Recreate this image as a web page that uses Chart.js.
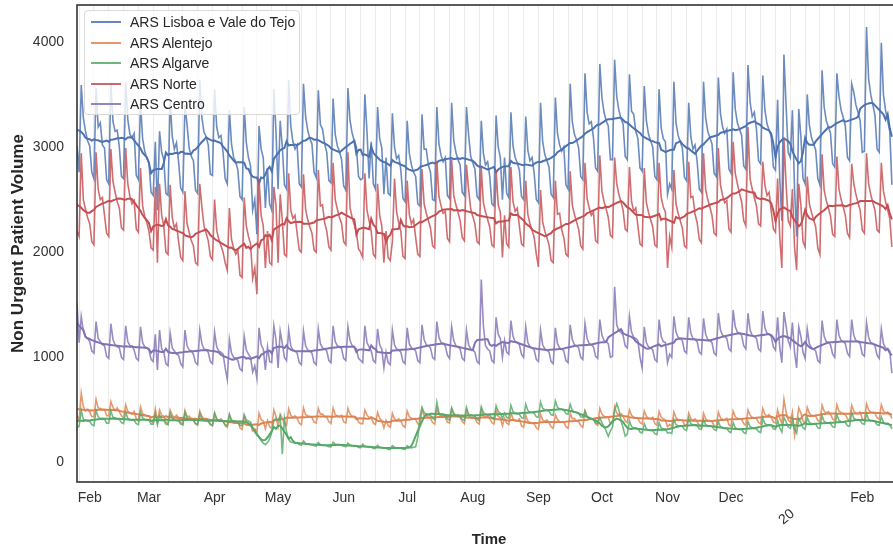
<!DOCTYPE html>
<html>
<head>
<meta charset="utf-8">
<script src="https://cdn.jsdelivr.net/npm/chart.js@4.4.1/dist/chart.umd.min.js"></script>
<style>
  html, body { margin: 0; padding: 0; background: #fff; }
  #wrap { position: relative; width: 893px; height: 550px; overflow: hidden; }
  #legend {
    position: absolute; left: 84px; top: 10px; width: 216px; height: 105px;
    border: 1px solid #d9d9d9; border-radius: 4px; background: rgba(255,255,255,0.8);
    font: 14px "Liberation Sans", Arial, sans-serif; color: #262626; box-sizing: border-box;
    padding-top: 1px;
  }
  #legend .row { height: 20.5px; display: flex; align-items: center; }
  #legend .swatch { width: 30px; height: 2px; margin-left: 6px; margin-right: 9px; }
</style>
</head>
<body>
<div id="wrap">
  <canvas id="chart" width="904" height="550"></canvas>
  <div id="legend"></div>
</div>
<script>
// daily non urgent ER volume, first day 2019-01-26
const startDate = '2019-01-26';

const regions = ['ARS Lisboa e Vale do Tejo', 'ARS Alentejo', 'ARS Algarve', 'ARS Norte', 'ARS Centro'];
const colors = ['#4C72B0', '#DD8452', '#55A868', '#C44E52', '#8172B3'];

const monthTickDates = ['2019-02-01', '2019-03-01', '2019-04-01', '2019-05-01', '2019-06-01', '2019-07-01',
  '2019-08-01', '2019-09-01', '2019-10-01', '2019-11-01', '2019-12-01', '2020-01-01', '2020-02-01'];
const monthTickLabels = ['Feb', 'Mar', 'Apr', 'May', 'Jun', 'Jul', 'Aug', 'Sep', 'Oct', 'Nov', 'Dec', '20', 'Feb'];
const yTicks = [0, 1000, 2000, 3000, 4000];

const lisboa = [
  3010, 2760,
  3590, 3280, 3150, 3060, 3010, 2760, 2700,
  3560, 3190, 3230, 3020, 2990, 2690, 2650,
  3610, 3240, 3150, 3160, 3000, 2720, 2700,
  3620, 3260, 3120, 3090, 3130, 2730, 2690,
  3420, 3080, 2960, 2890, 2850, 2570, 2540,
  3050, 2400, 3150, 2950, 2880, 2560, 2540,
  3450, 3100, 2980, 3040, 2860, 2610, 2570,
  3400, 3210, 2990, 2910, 2870, 2590, 2560,
  3640, 3280, 3140, 3100, 3020, 2740, 2730,
  3550, 3190, 3090, 3110, 2950, 2700, 2650,
  3350, 3030, 2900, 2860, 2780, 2530, 2500,
  3380, 3040, 2900, 2820, 2400, 2500, 2170,
  3200, 2980, 2900, 2420, 2800, 2460, 2400,
  3550, 3150, 2600, 3250, 3000, 2640, 2600,
  3640, 3200, 3050, 2980, 3020, 2650, 2620,
  3600, 3290, 3160, 3080, 3030, 2760, 2710,
  3540, 3210, 3170, 3030, 2950, 2680, 2660,
  3460, 3120, 3010, 2960, 2880, 2630, 2590,
  3560, 3250, 3130, 3060, 3000, 2720, 2690,
  2700, 3500, 3150, 2700, 3050, 2650, 2600,
  3380, 3080, 2990, 2550, 2900, 2560, 2540,
  3320, 3000, 2890, 2920, 2780, 2510, 2480,
  3250, 2940, 2830, 2760, 2720, 2460, 2440,
  3310, 2980, 2980, 2830, 2760, 2500, 2490,
  3380, 3030, 2920, 2860, 2900, 2540, 2510,
  3420, 3060, 2950, 2880, 2830, 2570, 2540,
  3380, 3120, 2910, 2850, 2790, 2530, 2500,
  3250, 2940, 2830, 2860, 2720, 2460, 2440,
  3300, 3000, 2900, 2500, 2900, 2560, 2520,
  3330, 3010, 2900, 2850, 2780, 2530, 2500,
  3290, 2970, 2870, 2900, 2750, 2500, 2470,
  3420, 3050, 2930, 2870, 2810, 2550, 2520,
  3470, 3130, 3020, 2960, 3000, 2640, 2600,
  3600, 3240, 3120, 3070, 2990, 2720, 2690,
  3700, 3330, 3220, 3240, 3090, 2800, 2770,
  3790, 3470, 3330, 3250, 3200, 2880, 2880,
  3830, 3480, 3350, 3270, 3220, 2910, 2880,
  3690, 3340, 3310, 3150, 3080, 2800, 2770,
  3580, 3250, 3120, 3060, 3000, 2720, 2690,
  3550, 3180, 3080, 3050, 2550, 2650, 2600,
  3620, 3230, 3110, 3050, 2990, 2710, 2680,
  3420, 3100, 2980, 3020, 2860, 2600, 2570,
  3620, 3280, 3150, 3090, 3030, 2750, 2720,
  3660, 3320, 3190, 3130, 3170, 2790, 2750,
  3710, 3360, 3230, 3170, 3110, 2820, 2790,
  3780, 3430, 3290, 3330, 3170, 2870, 2840,
  3680, 3350, 3220, 3160, 3100, 2810, 2780,
  3450, 2700, 2300, 3880, 3400, 2950, 2900,
  3350, 2600, 2150, 3360, 3100, 2700, 2650,
  3500, 3210, 3090, 3030, 2970, 2700, 2640,
  3730, 3380, 3250, 3190, 3130, 2840, 2810,
  3700, 3480, 3350, 3280, 3200, 2900, 2870,
  3600, 3520, 3400, 3330, 3250, 2950, 2960,
  4140, 3650, 3500, 3400, 3300, 2980, 2950,
  3990, 3500, 3350, 3250, 3150, 2640
];

const alentejo = [
  450, 400,
  660, 530, 490, 500, 480, 435, 435,
  600, 520, 515, 500, 505, 445, 445,
  580, 525, 495, 520, 485, 445, 425,
  550, 485, 475, 460, 485, 415, 395,
  530, 465, 455, 440, 445, 395, 380,
  510, 380, 500, 450, 440, 385, 365,
  500, 450, 425, 450, 420, 380, 360,
  495, 435, 440, 415, 410, 370, 355,
  490, 440, 415, 420, 405, 370, 350,
  470, 415, 400, 415, 395, 350, 335,
  450, 395, 380, 375, 390, 330, 315,
  440, 390, 375, 365, 300, 320, 290,
  470, 410, 395, 320, 400, 340, 325,
  500, 440, 340, 460, 420, 370, 355,
  510, 450, 430, 445, 420, 375, 360,
  520, 455, 445, 435, 430, 385, 375,
  515, 460, 460, 435, 430, 390, 370,
  520, 455, 445, 435, 450, 385, 375,
  515, 460, 440, 440, 430, 385, 370,
  370, 500, 450, 430, 425, 375, 360,
  475, 420, 400, 330, 400, 350, 335,
  470, 415, 400, 415, 395, 350, 335,
  490, 435, 420, 415, 410, 370, 355,
  505, 445, 450, 425, 420, 380, 365,
  515, 460, 440, 435, 430, 385, 375,
  510, 460, 445, 455, 430, 390, 370,
  500, 450, 430, 425, 420, 380, 365,
  505, 445, 430, 445, 420, 380, 365,
  495, 440, 425, 350, 420, 375, 360,
  470, 415, 400, 395, 415, 350, 335,
  450, 395, 380, 375, 370, 330, 315,
  460, 405, 390, 405, 380, 340, 325,
  455, 410, 390, 385, 385, 340, 325,
  470, 415, 420, 395, 390, 350, 335,
  490, 435, 420, 415, 410, 370, 355,
  515, 460, 440, 435, 430, 365, 375,
  530, 470, 450, 465, 440, 395, 380,
  500, 450, 430, 425, 420, 380, 365,
  490, 440, 420, 415, 430, 370, 355,
  485, 430, 415, 405, 340, 360, 345,
  480, 425, 410, 405, 400, 360, 345,
  470, 415, 400, 415, 390, 350, 335,
  470, 415, 400, 400, 390, 350, 335,
  480, 425, 410, 405, 420, 360, 345,
  490, 435, 420, 415, 410, 370, 355,
  500, 450, 430, 425, 420, 380, 365,
  515, 460, 440, 455, 430, 385, 375,
  500, 420, 370, 600, 480, 405, 385,
  480, 260, 380, 520, 470, 395, 375,
  525, 470, 450, 445, 440, 400, 385,
  545, 490, 470, 485, 460, 415, 400,
  550, 485, 475, 465, 460, 415, 405,
  545, 490, 470, 465, 480, 415, 400,
  560, 500, 480, 475, 470, 425, 410,
  550, 490, 470, 465, 460, 420
];

const algarve = [
  330, 345,
  495, 410, 405, 395, 390, 360, 350,
  495, 435, 420, 410, 415, 375, 375,
  490, 430, 425, 415, 410, 380, 370,
  480, 420, 410, 405, 400, 370, 360,
  475, 425, 410, 400, 405, 365, 365,
  465, 360, 450, 410, 400, 365, 360,
  470, 420, 405, 400, 395, 365, 360,
  475, 420, 410, 405, 400, 370, 365,
  465, 415, 400, 395, 390, 360, 355,
  470, 410, 400, 395, 390, 360, 350,
  460, 405, 395, 390, 385, 355, 350,
  455, 405, 395, 385, 330, 290, 260,
  240, 210, 185, 170, 190, 225, 285,
  400, 420, 400, 440, 80, 420, 290,
  220, 195, 190, 185, 190, 172, 167,
  205, 180, 175, 172, 170, 160, 157,
  190, 170, 165, 165, 160, 150, 149,
  195, 175, 170, 168, 165, 154, 152,
  186, 165, 160, 158, 157, 144, 142,
  175, 155, 150, 148, 147, 135, 134,
  165, 145, 140, 138, 137, 125, 124,
  160, 145, 140, 139, 137, 126, 125,
  160, 145, 140, 145, 150, 240, 430,
  525, 475, 460, 455, 450, 420, 410,
  575, 470, 455, 450, 445, 415, 405,
  520, 465, 450, 445, 440, 410, 400,
  525, 460, 455, 445, 440, 410, 400,
  530, 475, 460, 455, 450, 420, 410,
  540, 485, 470, 420, 470, 430, 420,
  545, 485, 470, 465, 460, 425, 420,
  555, 495, 480, 475, 470, 435, 430,
  575, 515, 500, 495, 490, 455, 450,
  585, 525, 510, 505, 500, 465, 460,
  555, 495, 480, 475, 470, 435, 430,
  490, 435, 420, 415, 410, 380, 370,
  425, 380, 340, 300, 250, 300, 335,
  495, 560, 500, 400, 330, 250, 270,
  395, 340, 330, 325, 320, 290, 280,
  370, 320, 310, 305, 305, 275, 265,
  380, 330, 320, 318, 280, 285, 275,
  410, 360, 350, 345, 345, 315, 305,
  420, 370, 360, 355, 350, 320, 315,
  410, 360, 350, 345, 345, 315, 305,
  390, 340, 330, 325, 325, 295, 285,
  380, 330, 320, 315, 315, 285, 275,
  390, 340, 330, 325, 320, 295, 285,
  420, 370, 360, 355, 355, 320, 315,
  400, 330, 290, 430, 390, 340, 325,
  410, 320, 280, 420, 380, 330, 315,
  430, 380, 370, 365, 365, 330, 325,
  445, 390, 380, 375, 370, 340, 335,
  455, 400, 390, 385, 380, 350, 345,
  475, 420, 410, 405, 400, 370, 365,
  465, 410, 400, 395, 390, 360, 355,
  435, 380, 370, 365, 360, 320
];

const norte = [
  2200, 2150,
  2940, 2500, 2410, 2330, 2270, 2100, 2070,
  2950, 2600, 2500, 2520, 2350, 2180, 2150,
  2980, 2670, 2570, 2480, 2420, 2230, 2210,
  2990, 2650, 2530, 2460, 2490, 2220, 2190,
  2800, 2440, 2340, 2280, 2200, 2040, 2020,
  2620, 1900, 2650, 2350, 2250, 2000, 1980,
  2640, 2330, 2230, 2270, 2100, 1950, 1920,
  2580, 2270, 2190, 2110, 2060, 1900, 1880,
  2650, 2430, 2250, 2180, 2110, 1960, 1930,
  2500, 2210, 2120, 2060, 2000, 1900, 1830,
  2420, 2120, 2040, 1980, 2020, 1780, 1760,
  2520, 2250, 2150, 2080, 1750, 1850, 1600,
  2700, 2350, 2250, 1850, 2200, 1900, 1880,
  2620, 2450, 1900, 2550, 2300, 1980, 1960,
  2750, 2400, 2320, 2350, 2180, 2020, 2000,
  2740, 2410, 2310, 2240, 2180, 2020, 2000,
  2780, 2440, 2450, 2280, 2200, 2050, 2020,
  2850, 2500, 2410, 2330, 2270, 2100, 2070,
  2950, 2420, 2330, 2260, 2190, 2030, 2000,
  1950, 2750, 2400, 2300, 2200, 1980, 1950,
  2650, 2350, 2250, 1900, 2200, 1950, 1920,
  2100, 2700, 2380, 2280, 2200, 1960, 1940,
  2680, 2360, 2270, 2310, 2140, 1980, 1960,
  2790, 2460, 2370, 2300, 2230, 2060, 2040,
  2870, 2530, 2440, 2370, 2390, 2130, 2100,
  2880, 2540, 2450, 2380, 2300, 2140, 2110,
  2830, 2600, 2410, 2340, 2270, 2100, 2080,
  2800, 2470, 2380, 2310, 2240, 2070, 2050,
  2780, 2450, 2380, 1950, 2350, 2080, 2050,
  2810, 2480, 2390, 2420, 2250, 2080, 2060,
  2680, 2360, 2270, 2210, 2140, 1980, 1860,
  2590, 2290, 2200, 2140, 2070, 1920, 1900,
  2680, 2360, 2370, 2210, 2140, 1980, 1960,
  2770, 2450, 2360, 2290, 2220, 2060, 2030,
  2850, 2510, 2420, 2350, 2380, 2110, 2090,
  2920, 2580, 2480, 2410, 2330, 2160, 2140,
  2900, 2650, 2550, 2480, 2400, 2220, 2200,
  2810, 2480, 2390, 2420, 2250, 2080, 2060,
  2800, 2470, 2380, 2310, 2240, 2070, 2050,
  2850, 2520, 2430, 2380, 1850, 2150, 2050,
  2780, 2460, 2370, 2300, 2230, 2060, 2040,
  2860, 2520, 2530, 2360, 2280, 2120, 2090,
  2940, 2600, 2500, 2430, 2350, 2180, 2160,
  2990, 2640, 2540, 2470, 2490, 2220, 2190,
  3050, 2750, 2650, 2560, 2480, 2300, 2250,
  3190, 2700, 2600, 2520, 2440, 2270, 2250,
  2860, 2640, 2540, 2570, 2390, 2220, 2190,
  2700, 2150, 1850, 3080, 2650, 2300, 2250,
  2600, 2050, 1830, 2650, 2450, 2100, 2050,
  2720, 2460, 2380, 2310, 2240, 2040, 1980,
  2930, 2590, 2490, 2420, 2340, 2170, 2150,
  2910, 2600, 2500, 2430, 2350, 2180, 2140,
  2840, 2650, 2550, 2470, 2400, 2210, 2180,
  2940, 2650, 2550, 2470, 2400, 2210, 2190,
  2850, 2580, 2480, 2400, 2320, 2050
];

const centro = [
  1520, 1140,
  1390, 1250, 1200, 1180, 1150, 1060, 1040,
  1340, 1180, 1150, 1120, 1110, 1010, 990,
  1320, 1170, 1120, 1100, 1090, 1000, 980,
  1300, 1150, 1110, 1110, 1070, 990, 970,
  1290, 1140, 1100, 1090, 1070, 980, 960,
  1220, 880, 1260, 1080, 1050, 940, 920,
  1230, 1090, 1060, 1030, 1020, 940, 910,
  1260, 1110, 1070, 1060, 1030, 950, 930,
  1260, 1130, 1080, 1070, 1050, 960, 940,
  1240, 1100, 1060, 1050, 1030, 900, 790,
  1170, 1040, 1000, 990, 970, 890, 870,
  1200, 1070, 1030, 1000, 860, 920, 800,
  1280, 1120, 1080, 880, 1100, 960, 950,
  1300, 1170, 900, 1250, 1130, 1000, 970,
  1260, 1110, 1070, 1060, 1040, 950, 930,
  1250, 1110, 1070, 1060, 1040, 950, 930,
  1270, 1130, 1090, 1080, 1060, 970, 950,
  1300, 1150, 1110, 1100, 1080, 990, 970,
  1290, 1160, 1110, 1100, 1080, 990, 970,
  950, 1300, 1140, 1100, 1060, 970, 950,
  1270, 1120, 1080, 900, 1050, 950, 930,
  1260, 1120, 1080, 1070, 1050, 960, 940,
  1280, 1130, 1090, 1080, 1060, 970, 950,
  1310, 1170, 1120, 1110, 1090, 1000, 980,
  1340, 1190, 1140, 1130, 1110, 1020, 990,
  1290, 1160, 1110, 1100, 1080, 990, 970,
  1260, 1120, 1080, 1070, 1050, 960, 940,
  1740, 1300, 1110, 1080, 1060, 970, 950,
  1380, 1220, 1180, 1000, 1160, 1050, 1030,
  1350, 1200, 1150, 1140, 1120, 1030, 1000,
  1290, 1140, 1100, 1090, 1070, 980, 960,
  1260, 1120, 1080, 1070, 1050, 960, 940,
  1280, 1130, 1090, 1080, 1060, 970, 950,
  1310, 1170, 1120, 1110, 1090, 1000, 980,
  1320, 1180, 1130, 1120, 1100, 1010, 990,
  1360, 1210, 1160, 1150, 1130, 1000, 1010,
  1670, 1310, 1250, 1240, 1210, 1110, 1090,
  1390, 1240, 1190, 1180, 1160, 1000, 900,
  1290, 1140, 1100, 1090, 1070, 980, 960,
  1360, 1200, 1150, 1140, 950, 1030, 1000,
  1390, 1240, 1190, 1180, 1160, 1060, 1040,
  1380, 1230, 1180, 1170, 1150, 1050, 1030,
  1370, 1220, 1170, 1160, 1140, 1040, 1020,
  1420, 1260, 1210, 1200, 1180, 1080, 1060,
  1450, 1290, 1240, 1230, 1210, 1110, 1080,
  1420, 1260, 1210, 1200, 1180, 1080, 1060,
  1440, 1280, 1230, 1220, 1200, 1100, 1070,
  1380, 1100, 950, 1430, 1300, 1160, 1100,
  1330, 1050, 900, 1290, 1200, 1050, 990,
  1270, 1130, 1090, 1080, 1060, 970, 950,
  1350, 1200, 1150, 1140, 1120, 1030, 1000,
  1360, 1210, 1160, 1150, 1130, 1040, 1010,
  1360, 1210, 1160, 1150, 1130, 1030, 1010,
  1330, 1190, 1140, 1130, 1110, 1020, 990,
  1270, 1130, 1090, 1080, 1060, 850
];

const series = [lisboa, alentejo, algarve, norte, centro];

const DAY = 86400000;
function dayIndex(iso) {
  return Math.round((Date.parse(iso) - Date.parse(startDate)) / DAY);
}

// centred 7 day rolling mean
function rolling(values, win) {
  const half = Math.floor(win / 2);
  return values.map((_, i) => {
    const lo = Math.max(0, i - half), hi = Math.min(values.length - 1, i + half);
    let s = 0;
    for (let k = lo; k <= hi; k++) s += values[k];
    return s / (hi - lo + 1);
  });
}

function withAlpha(hex, a) {
  const n = parseInt(hex.slice(1), 16);
  return `rgba(${n >> 16}, ${(n >> 8) & 255}, ${n & 255}, ${a})`;
}

const monthDays = monthTickDates.map(dayIndex);
const monthLabel = new Map(monthDays.map((d, i) => [d, monthTickLabels[i]]));
const nDays = lisboa.length;
const weekDays = [];
for (let d = 1; d < nDays + 4; d += 7) weekDays.push(d); // sundays
const weekSet = new Set(weekDays);

const datasets = [];
series.forEach((vals, k) => {
  datasets.push({
    label: regions[k],
    data: vals.map((v, i) => ({ x: i, y: v })),
    borderColor: withAlpha(colors[k], 0.82),
    borderWidth: 1.6,
    order: 20 - 2 * k
  });
  datasets.push({
    label: regions[k] + ' (rolling)',
    data: rolling(vals, 7).map((v, i) => ({ x: i, y: v })),
    borderColor: colors[k],
    borderWidth: 2,
    order: 19 - 2 * k
  });
});

const FONT = '"Liberation Sans", Arial, sans-serif';

const framePlugin = {
  id: 'frame',
  afterDraw(chart) {
    const { ctx, chartArea: a } = chart;
    ctx.save();
    ctx.strokeStyle = '#333333';
    ctx.lineWidth = 1.6;
    ctx.strokeRect(a.left, a.top, a.right - a.left, a.bottom - a.top);
    // rotated year label
    const x = chart.scales.x.getPixelForValue(dayIndex('2020-01-01'));
    ctx.translate(x - 10, 517);
    ctx.rotate(-40 * Math.PI / 180);
    ctx.fillStyle = '#333333';
    ctx.font = '14px ' + FONT;
    ctx.textAlign = 'center';
    ctx.textBaseline = 'middle';
    ctx.fillText('20', 0, 0);
    ctx.restore();
  }
};

new Chart(document.getElementById('chart'), {
  type: 'line',
  data: { datasets },
  plugins: [framePlugin],
  options: {
    responsive: false,
    devicePixelRatio: 1,
    animation: false,
    layout: { padding: { top: 5, right: 3, left: 0, bottom: 0 } },
    elements: { point: { radius: 0 }, line: { tension: 0 } },
    plugins: { legend: { display: false }, tooltip: { enabled: false } },
    scales: {
      x: {
        type: 'linear',
        min: 0,
        max: 389.3,
        afterFit(s) { s.height = 68; s.paddingLeft = 0; s.paddingRight = 0; },
        afterBuildTicks(s) {
          const vals = [...new Set([...weekDays, ...monthDays])].filter(v => v <= 389).sort((p, q) => p - q);
          s.ticks = vals.map(v => ({ value: v }));
        },
        grid: {
          drawTicks: false,
          color: c => (c.tick && weekSet.has(c.tick.value)) ? '#ebebeb' : 'rgba(0,0,0,0)',
          lineWidth: 1
        },
        border: { display: false },
        ticks: {
          autoSkip: false,
          maxRotation: 0,
          minRotation: 0,
          padding: 8,
          color: '#333333',
          font: { family: FONT, size: 14 },
          callback: v => (monthLabel.has(v) && monthLabel.get(v) !== '20') ? monthLabel.get(v) : ''
        },
        title: {
          display: true,
          text: 'Time',
          color: '#262626',
          font: { family: FONT, size: 15, weight: 'bold' },
          padding: { top: 0, bottom: 1 }
        }
      },
      y: {
        min: -185,
        max: 4350,
        afterFit(s) { s.width = 77; s.paddingTop = 0; s.paddingBottom = 0; },
        afterBuildTicks(s) { s.ticks = yTicks.map(v => ({ value: v })); },
        grid: { display: false, drawTicks: false },
        border: { display: false },
        ticks: {
          padding: 13,
          color: '#333333',
          font: { family: FONT, size: 14 },
          callback: v => String(v)
        },
        title: {
          display: true,
          text: 'Non Urgent Patient Volume',
          color: '#262626',
          font: { family: FONT, size: 17, weight: 'bold' },
          padding: { top: 8, bottom: 0 }
        }
      }
    }
  }
});

// legend box drawn over the plot
const legend = document.getElementById('legend');
regions.forEach((name, k) => {
  const row = document.createElement('div');
  row.className = 'row';
  const sw = document.createElement('span');
  sw.className = 'swatch';
  sw.style.background = withAlpha(colors[k], 0.85);
  const txt = document.createElement('span');
  txt.textContent = name;
  row.appendChild(sw);
  row.appendChild(txt);
  legend.appendChild(row);
});
</script>
</body>
</html>
